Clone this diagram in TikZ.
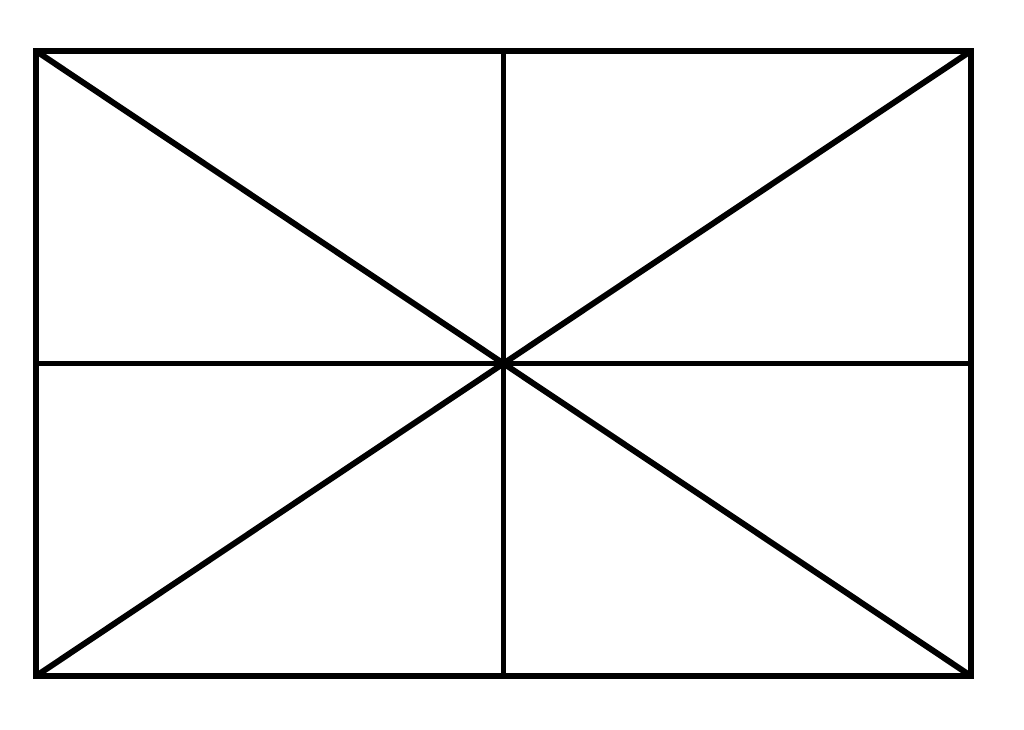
\documentclass[tikz,border=0pt]{standalone}
\usepackage{tikz}

\begin{document}
\begin{tikzpicture}[x=0.025cm, y=-0.025cm, frame/.style={line width=4.2pt, line join=miter}]
            \useasboundingbox (0, 0) rectangle (1024, 729);

            \coordinate (A) at (36, 51);
            \coordinate (B) at (971, 51);
            \coordinate (C) at (971, 676);
            \coordinate (D) at (36, 676);
            \coordinate (T) at (503.5, 51);
            \coordinate (R) at (971, 363.5);
            \coordinate (U) at (503.5, 676);
            \coordinate (L) at (36, 363.5);

            \draw[frame] (A) -- (B) -- (C) -- (D) -- cycle;

            \draw[frame] (A) -- (C);
            \draw[frame] (B) -- (D);
            \draw[frame] (T) -- (U);
            \draw[frame] (L) -- (R);
        \end{tikzpicture}
\end{document}
